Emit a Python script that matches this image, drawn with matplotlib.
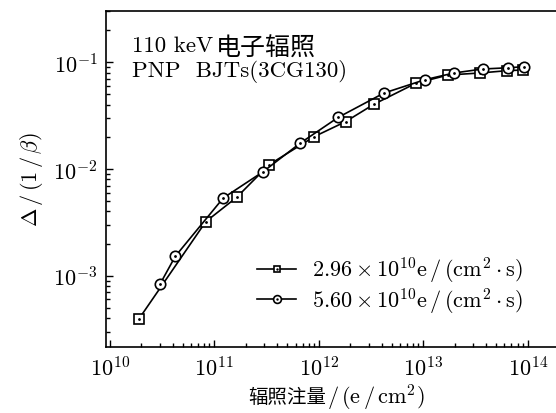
import matplotlib
matplotlib.use("Agg")
import matplotlib.pyplot as plt
from matplotlib.legend_handler import HandlerTuple

plt.rcParams['mathtext.fontset'] = 'cm'
plt.rcParams['font.family'] = ['cmr10', 'Noto Sans CJK SC']
plt.rcParams['axes.formatter.use_mathtext'] = True

# 2.96e10 e/(cm^2 s)
fluence_a = [1.9e10, 8.3e10, 1.64e11, 3.36e11, 9.05e11, 1.81e12, 3.37e12,
             8.5e12, 1.73e13, 3.49e13, 6.28e13, 8.94e13]
delta_a = [3.93e-4, 3.21e-3, 5.43e-3, 1.10e-2, 2.01e-2, 2.78e-2, 4.04e-2,
           6.36e-2, 7.60e-2, 7.94e-2, 8.34e-2, 8.47e-2]
# 5.60e10 e/(cm^2 s)
fluence_b = [3.02e10, 4.24e10, 1.22e11, 2.94e11, 6.61e11, 1.54e12, 4.21e12,
             1.04e13, 1.97e13, 3.70e13, 6.50e13, 9.21e13]
delta_b = [8.3e-4, 1.52e-3, 5.35e-3, 9.44e-3, 1.74e-2, 3.05e-2, 5.15e-2,
           6.87e-2, 7.94e-2, 8.65e-2, 8.89e-2, 9.09e-2]

labels = [r'$2.96\times10^{10}\mathrm{e\,/\,(cm^2\cdot s)}$',
          r'$5.60\times10^{10}\mathrm{e\,/\,(cm^2\cdot s)}$']

fig = plt.figure(figsize=(5.56, 4.14), dpi=100)
# right spine falls just outside the picture, as in the original crop
ax = fig.add_axes([0.1906, 0.1594, 0.8165, 0.8109])

la, = ax.plot(fluence_a, delta_a, '-s', color='black', lw=1.2, ms=6.5,
              mfc='white', mec='black', mew=1.2)
da, = ax.plot(fluence_a, delta_a, '.', color='black', ms=2)
lb, = ax.plot(fluence_b, delta_b, '-o', color='black', lw=1.2, ms=7.5,
              mfc='white', mec='black', mew=1.2)
db, = ax.plot(fluence_b, delta_b, '.', color='black', ms=2)

ax.set_xscale('log')
ax.set_yscale('log')
ax.set_xlim(10**9.964, 10**14.309)
ax.set_ylim(10**-3.668, 10**-0.522)
ax.set_xticks([1e10, 1e11, 1e12, 1e13, 1e14])
ax.set_yticks([1e-3, 1e-2, 1e-1])

ax.tick_params(which='both', direction='in', top=False, right=False,
               labelsize=16, width=1)
ax.tick_params(which='major', length=5, pad=6)
ax.tick_params(which='minor', length=3)
for s in ax.spines.values():
    s.set_linewidth(1.2)

# x label: chinese part + math part
fig.text(326 / 556, 1 - 398 / 414, '辐照注量', fontsize=14,
         family='Noto Sans CJK SC', ha='right', va='center')
fig.text(327 / 556, 1 - 398 / 414, r'$/\,(\mathrm{e\,/\,cm^2})$', fontsize=16,
         ha='left', va='center')
ax.set_ylabel(r'$\mathit{\Delta}\,/\,(1\,/\,\beta)$', fontsize=16, labelpad=6)

t1 = ax.text(0.0572, 0.882, '110 keV', transform=ax.transAxes,
             fontsize=16.5, va='baseline')
ax.annotate('电子辐照', xy=(1, 0), xycoords=t1, xytext=(2, 0),
            textcoords='offset points', fontsize=18, va='baseline',
            family='Noto Sans CJK SC')
ax.text(0.0572, 0.807, 'PNP  BJTs(3CG130)', transform=ax.transAxes,
        fontsize=16.5, va='baseline')

ax.legend([(la, da), (lb, db)], labels,
          handler_map={tuple: HandlerTuple(ndivide=1, pad=0)},
          loc='lower right', bbox_to_anchor=(0.9615, 0.034), frameon=False,
          fontsize=16, handlelength=1.75, handletextpad=0.7,
          labelspacing=0.0, markerscale=0.75)

fig.savefig('out.png', dpi=100)
